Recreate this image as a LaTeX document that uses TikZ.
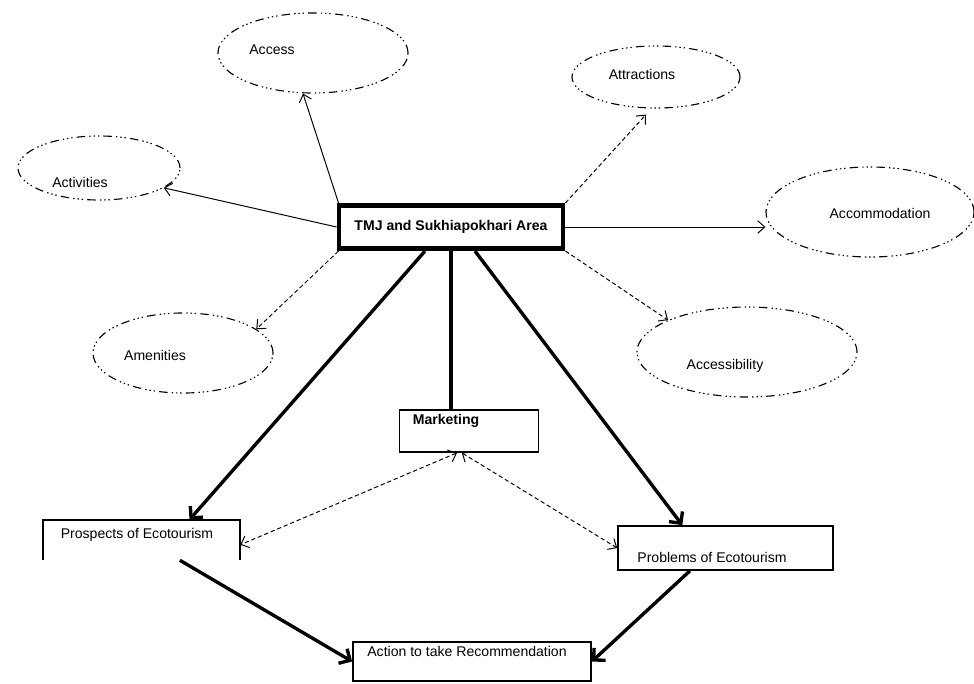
\documentclass[tikz,border=0pt]{standalone}
\usepackage{fontspec}
\setmainfont{Liberation Sans}
\usetikzlibrary{shapes.geometric, arrows.meta}

\begin{document}
\begin{tikzpicture}[x=0.025cm, y=-0.025cm,
		aspect/.style={draw, ellipse, line width=0.8pt, inner sep=0pt,
			dash pattern=on 6pt off 3pt on 1pt off 2pt on 1pt off 2pt on 1pt off 3pt},
		box/.style={draw, rectangle, line width=1.2pt, inner sep=0pt},
		lbl/.style={font=\fontsize{10}{12}\selectfont, inner sep=0pt},
		thinarrow/.style={line width=0.7pt, -{Straight Barb[length=5pt, width=9pt]}},
		bothways/.style={line width=0.7pt, densely dashed,
			{Straight Barb[length=5pt, width=9pt]}-{Straight Barb[length=5pt, width=9pt]}},
		thickarrow/.style={line width=2.4pt, -{Straight Barb[length=6pt, width=12pt]}}]

				\useasboundingbox (0,0) rectangle (974,684);

				\node[aspect, minimum width=4.75cm, minimum height=2cm] (access) at (313,53) {};
				\node[aspect, minimum width=4.05cm, minimum height=1.6cm] (activities) at (99,168) {};
				\node[aspect, minimum width=4.2cm, minimum height=1.55cm] (attractions) at (656,77) {};
				\node[aspect, minimum width=5.2cm, minimum height=2.25cm] (accommodation) at (870,212) {};
				\node[aspect, minimum width=4.5cm, minimum height=2cm] (amenities) at (183,353) {};
				\node[aspect, minimum width=5.5cm, minimum height=2.25cm] (accessibility) at (747,352) {};

				\node[lbl] (accesstxt) at (272,50) {Access};
				\node[lbl] (activitiestxt) at (80,182) {Activities};
				\node[lbl] (attractionstxt) at (642,74) {Attractions};
				\node[lbl] (accommodationtxt) at (880,213) {Accommodation};
				\node[lbl] (amenitiestxt) at (155,355) {Amenities};
				\node[lbl] (accessibilitytxt) at (725,366) {Accessibility};

				\node[box, line width=3.5pt, minimum width=5.6cm, minimum height=1.08cm] (main) at (451,227) {};
				\node[lbl, font=\fontsize{10}{12}\selectfont\bfseries] (maintxt) at (451,227) {TMJ and Sukhiapokhari Area};

				\node[box, minimum width=3.47cm, minimum height=1.05cm] (marketing) at (469,431) {};
				\node[lbl, font=\fontsize{10}{12}\selectfont\bfseries] (marketingtxt) at (446,421) {Marketing};

				\node[minimum width=4.92cm, minimum height=1cm, inner sep=0pt] (prospects) at (141.5,540) {};
				\draw[line width=1.2pt] (prospects.south west) |- (prospects.north east) -- (prospects.south east);
				\node[lbl] (prospectstxt) at (137,535) {Prospects of Ecotourism};

				\node[box, minimum width=5.37cm, minimum height=1.1cm] (problems) at (725.5,548) {};
				\node[lbl] (problemstxt) at (712,557) {Problems of Ecotourism};

				\node[box, minimum width=5.95cm, minimum height=0.98cm] (action) at (472,661.5) {};
				\node[lbl] (actiontxt) at (467,651) {Action to take Recommendation};

				\draw[thinarrow] ([xshift=0.05cm]main.north west) to ([xshift=-0.25cm]access.south);
				\draw[thinarrow] (main.west) to (activities.-17);
				\draw[thinarrow, densely dashed] (main.north east) to ([xshift=-0.25cm, yshift=-0.15cm]attractions.south);
				\draw[thinarrow] (main.east) to (main.east -| accommodation.west);
				\draw[thinarrow, densely dashed] ([xshift=0.05cm]main.south west) to (amenities.18);
				\draw[thinarrow, densely dashed] (main.south east) to (accessibility.158);

				\draw[thickarrow] ([xshift=-0.65cm]main.south) to ([xshift=1.2cm]prospects.north);
				\draw[line width=2.4pt] (main.south) to (main.south |- marketing.north);
				\draw[thickarrow] ([xshift=0.6cm]main.south) to ([xshift=-1.08cm]problems.north);

				\draw[bothways] ([xshift=-0.3cm]marketing.south) to ([yshift=-0.12cm]prospects.east);
				\draw[bothways] ([xshift=-0.18cm]marketing.south) to (problems.west);

				\draw[thickarrow] ([xshift=0.96cm]prospects.south) to (action.west);
				\draw[thickarrow] ([xshift=-0.89cm]problems.south) to (action.east);
			\end{tikzpicture}
\end{document}
